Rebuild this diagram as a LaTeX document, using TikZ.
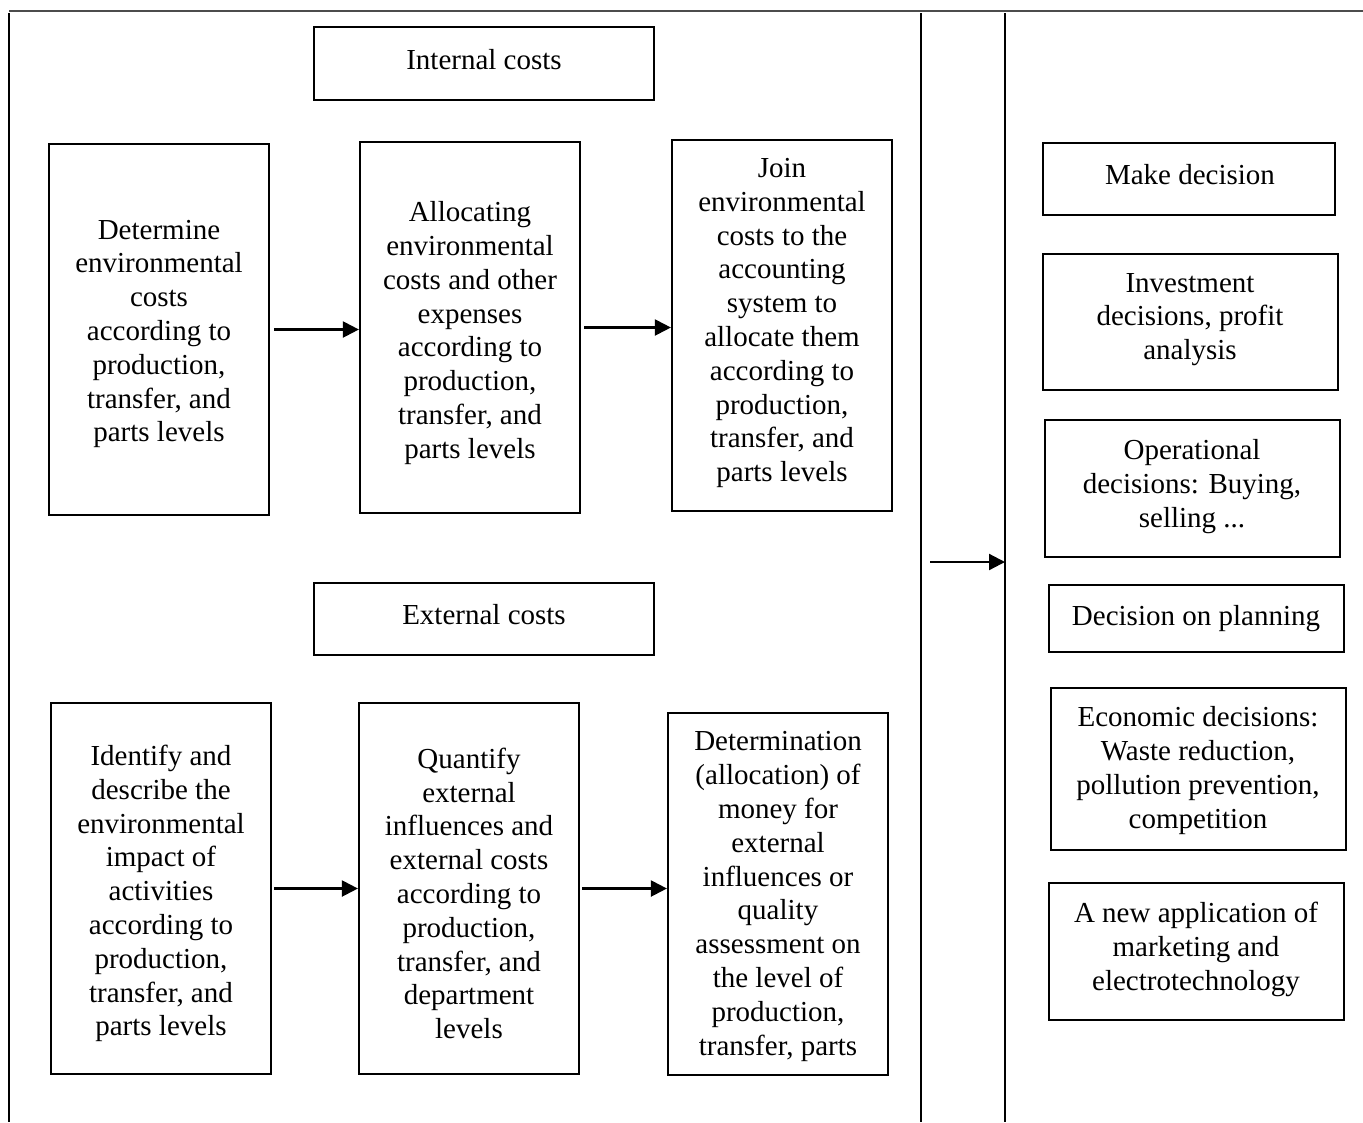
\documentclass[tikz,border=0pt]{standalone}
\usepackage{fontspec}
\setmainfont{Liberation Serif}
\usetikzlibrary{arrows.meta}
\begin{document}
\begin{tikzpicture}[x=1pt,y=-1pt,
  bx/.style={draw, line width=2.2pt, inner sep=0pt, minimum width=#1},
  txt/.style={inner sep=0pt, align=center, yshift=-3.5pt, font=\fontsize{29}{33.8}\selectfont},
  frame/.style={line width=2pt},
  arr/.style={line width=2.2pt, -{Triangle[length=16pt,width=16pt]}}]
\useasboundingbox (0,0) rectangle (1363,1122);
% frame
\coordinate (tl) at (9,11); \coordinate (tr) at (1363,11);
\coordinate (lt) at (9,13); \coordinate (lb) at (9,1122);
\coordinate (v1t) at (921,13); \coordinate (v1b) at (921,1122);
\coordinate (v2t) at (1005,13); \coordinate (v2b) at (1005,1122);
\draw[frame, black!70] (tl) -- (tr);
\draw[frame] (lt) -- (lb);
\draw[frame] (v1t) -- (v1b);
\draw[frame] (v2t) -- (v2b);
% boxes
\node[bx=340pt, minimum height=73pt] (ic) at (484,63.5) {};
\node[bx=220pt, minimum height=371pt] (a1) at (159,329.5) {};
\node[bx=220pt, minimum height=371pt] (a2) at (470,327.5) {};
\node[bx=220pt, minimum height=371pt] (a3) at (782,325.5) {};
\node[bx=340pt, minimum height=72pt] (ec) at (484,619) {};
\node[bx=220pt, minimum height=371pt] (b1) at (161,888.5) {};
\node[bx=220pt, minimum height=371pt] (b2) at (469,888.5) {};
\node[bx=220pt, minimum height=362pt] (b3) at (778,894) {};
\node[bx=292pt, minimum height=72pt] (r1) at (1189,179) {};
\node[bx=295pt, minimum height=136pt] (r2) at (1190.5,322) {};
\node[bx=295pt, minimum height=137pt] (r3) at (1192.5,488.5) {};
\node[bx=295pt, minimum height=67pt] (r4) at (1196.5,618.5) {};
\node[bx=295pt, minimum height=162pt] (r5) at (1198.5,769) {};
\node[bx=295pt, minimum height=137pt] (r6) at (1196.5,951.5) {};
% texts
\node[txt] (tic) at (484,56) {Internal costs};
\node[txt] (ta1) at (159,330.5) {Determine\\environmental\\costs\\according to\\production,\\transfer, and\\parts levels};
\node[txt] (ta2) at (470,329.5) {Allocating\\environmental\\costs and other\\expenses\\according to\\production,\\transfer, and\\parts levels};
\node[txt] (ta3) at (782,319.5) {Join\\environmental\\costs to the\\accounting\\system to\\allocate them\\according to\\production,\\transfer, and\\parts levels};
\node[txt] (tec) at (484,611) {External costs};
\node[txt] (tb1) at (161,890) {Identify and\\describe the\\environmental\\impact of\\activities\\according to\\production,\\transfer, and\\parts levels};
\node[txt] (tb2) at (469,890) {Quantify\\external\\influences and\\external costs\\according to\\production,\\transfer, and\\department\\levels};
\node[txt] (tb3) at (778,893) {Determination\\(allocation) of\\money for\\external\\influences or\\quality\\assessment on\\the level of\\production,\\transfer, parts};
\node[txt] (tr1) at (1190,171) {Make decision};
\node[txt] (tr2) at (1190,316) {Investment\\decisions, profit\\analysis};
\node[txt] (tr3) at (1192,483) {Operational\\decisions: Buying,\\selling ...};
\node[txt] (tr4) at (1196,615) {Decision on planning};
\node[txt] (tr5) at (1198,767) {Economic decisions:\\Waste reduction,\\pollution prevention,\\competition};
\node[txt] (tr6) at (1196,946) {A new application of\\marketing and\\electrotechnology};
% arrows
\draw[arr] ([xshift=4pt]a1.east) -- (a1.east -| a2.west);
\draw[arr] ([xshift=3pt]a2.east) -- (a2.east -| a3.west);
\draw[arr] ([xshift=2pt]b1.east) -- (b1.east -| b2.west);
\draw[arr] ([xshift=2pt]b2.east) -- (b2.east -| b3.west);
\coordinate (m0) at (930,562);
\draw[arr] (m0) -- (m0 -| v2t);
\end{tikzpicture}
\end{document}
